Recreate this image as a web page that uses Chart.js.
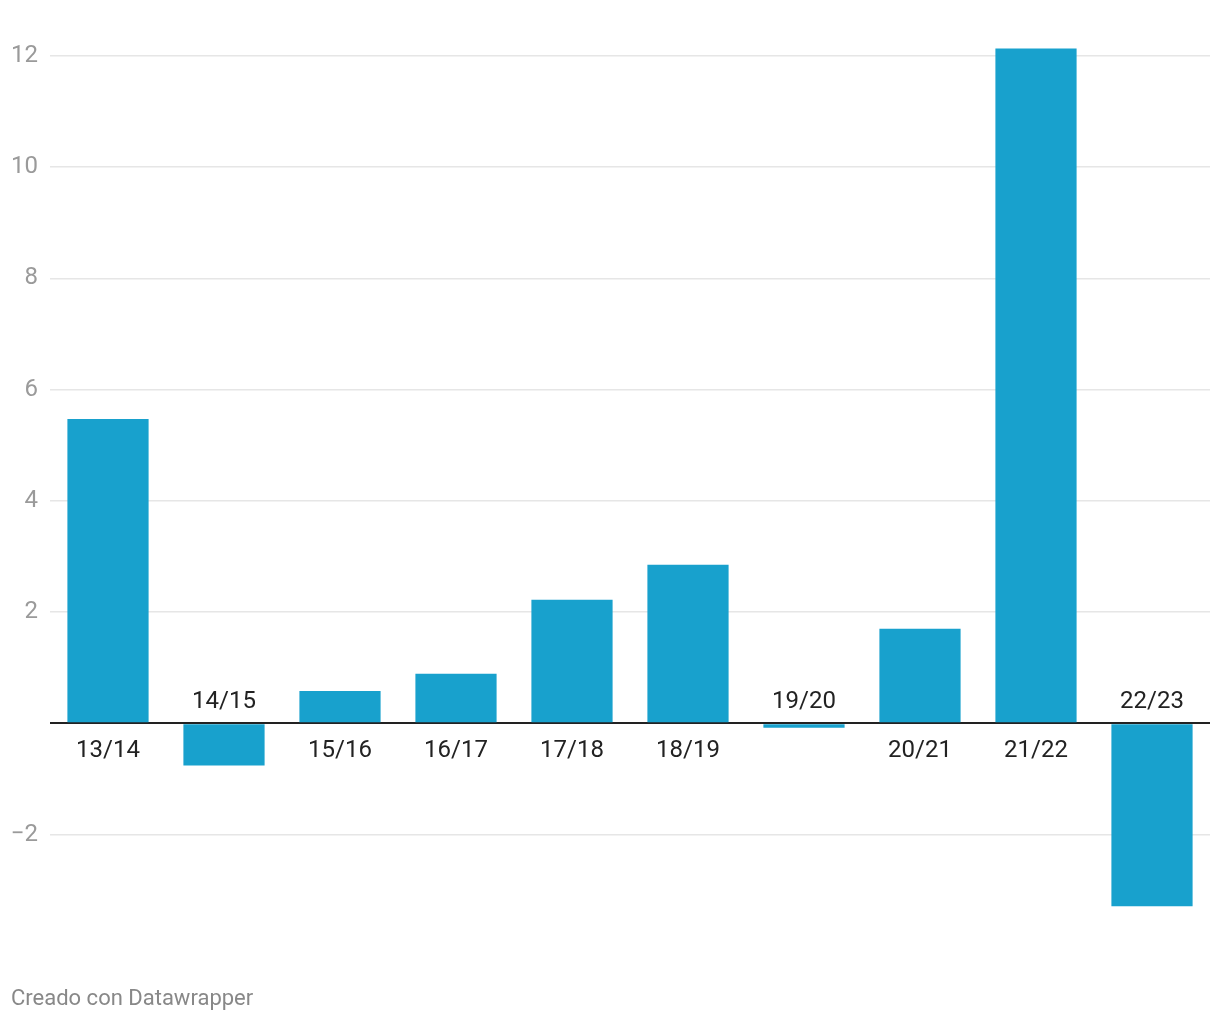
<!DOCTYPE html>
<html>
<head>
<meta charset="utf-8">
<script src="https://cdn.jsdelivr.net/npm/chart.js@4/dist/chart.umd.min.js"></script>
<style>
  html, body { margin: 0; padding: 0; background: #fff; }
  #wrap { position: relative; width: 1220px; height: 1020px; }
  #footer { position: absolute; left: 11px; top: 985px; font-family: Roboto, sans-serif; font-size: 22px; color: #888; }
</style>
</head>
<body>
<div id="wrap">
  <canvas id="c" width="1220" height="1020"></canvas>
  <div id="footer">Creado con Datawrapper</div>
</div>
<script>
const categories = ["13/14", "14/15", "15/16", "16/17", "17/18", "18/19", "19/20", "20/21", "21/22", "22/23"];
const values = [5.47, -0.76, 0.58, 0.89, 2.22, 2.85, -0.08, 1.70, 12.13, -3.29];
const tickValues = [-2, 0, 2, 4, 6, 8, 10, 12];

const catLabels = {
  id: 'catLabels',
  afterDatasetsDraw(chart) {
    const ctx = chart.ctx;
    const xs = chart.scales.x, ys = chart.scales.y;
    const y0 = ys.getPixelForValue(0);
    ctx.save();
    ctx.font = '24px Roboto, sans-serif';
    ctx.fillStyle = '#222';
    ctx.textAlign = 'center';
    ctx.textBaseline = 'middle';
    categories.forEach((c, i) => {
      const x = xs.getPixelForValue(i);
      const y = values[i] >= 0 ? y0 + 27.5 : y0 - 21;
      ctx.fillText(c, x, y);
    });
    ctx.restore();
  }
};

new Chart(document.getElementById('c'), {
  type: 'bar',
  data: {
    labels: categories,
    datasets: [{ data: values, backgroundColor: '#18a1cd', borderWidth: 0, categoryPercentage: 1, barPercentage: 0.7 }]
  },
  options: {
    responsive: false,
    animation: false,
    devicePixelRatio: 1,
    layout: { padding: { top: 28, right: 10, bottom: 102, left: 0 } },
    plugins: { legend: { display: false }, tooltip: { enabled: false } },
    scales: {
      x: { display: false },
      y: {
        min: -3.5, max: 12.5,
        afterBuildTicks(scale) { scale.ticks = tickValues.map(v => ({ value: v })); },
        afterFit(scale) { scale.width = 50; },
        border: { display: false },
        grid: {
          drawTicks: false,
          color: ctx => ctx.tick && ctx.tick.value === 0 ? '#222' : '#e6e6e6',
          lineWidth: ctx => ctx.tick && ctx.tick.value === 0 ? 2 : 1.5
        },
        ticks: {
          padding: 12,
          color: '#9a9a9a',
          font: { family: 'Roboto, sans-serif', size: 24 },
          callback: v => v === 0 ? '' : (v < 0 ? '\u2212' + Math.abs(v) : String(v))
        }
      }
    }
  },
  plugins: [catLabels]
});
</script>
</body>
</html>
